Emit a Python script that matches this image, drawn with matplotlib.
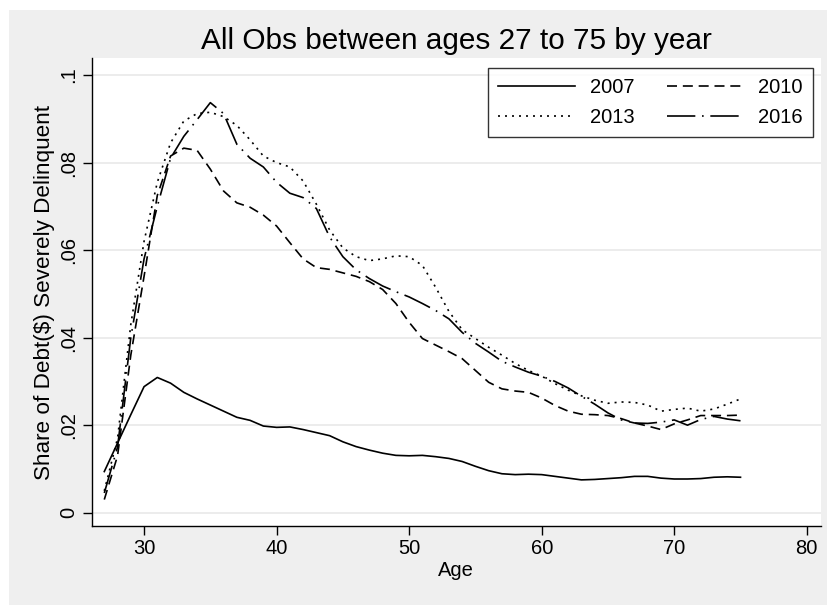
import matplotlib
matplotlib.use('Agg')
import matplotlib.pyplot as plt
from matplotlib.patches import Rectangle

plt.rcParams['font.family'] = ['Liberation Sans', 'DejaVu Sans']

ages = list(range(27, 76))

share_2007 = [
    .0094, .0159, .0224, .0288, .0309, .0296, .0275, .0260, .0246, .0232,
    .0218, .0211, .0198, .0195, .0196, .0190, .0183, .0176, .0162, .0151,
    .0143, .0136, .0131, .0130, .0131, .0128, .0124, .0117, .0106, .0096,
    .0089, .0087, .0088, .0087, .0083, .0079, .0075, .0076, .0078, .0080,
    .0083, .0083, .0079, .0077, .0077, .0078, .0081, .0082, .0081,
]
share_2010 = [
    .0030, .0130, .0360, .0540, .0725, .0815, .0833, .0828, .0785, .0735,
    .0708, .0698, .0680, .0655, .0617, .0580, .0560, .0556, .0548, .0540,
    .0528, .0510, .0478, .0435, .0398, .0383, .0368, .0352, .0325, .0298,
    .0283, .0278, .0275, .0262, .0245, .0232, .0225, .0224, .0222, .0215,
    .0205, .0198, .0190, .0203, .0212, .0222, .0222, .0222, .0223,
]
share_2013 = [
    .0050, .0170, .0430, .0620, .0755, .0845, .0895, .0912, .0915, .0905,
    .0885, .0852, .0815, .0800, .0790, .0758, .0705, .0646, .0605, .0585,
    .0576, .0580, .0587, .0585, .0565, .0515, .0460, .0418, .0398, .0378,
    .0360, .0341, .0325, .0312, .0295, .0280, .0267, .0257, .0250, .0253,
    .0252, .0246, .0232, .0236, .0239, .0232, .0237, .0248, .0260,
]
share_2016 = [
    .0045, .0150, .0400, .0580, .0700, .0810, .0860, .0898, .0937, .0912,
    .0842, .0810, .0790, .0755, .0730, .0720, .0695, .0630, .0585, .0555,
    .0535, .0518, .0505, .0493, .0478, .0462, .0443, .0412, .0387, .0367,
    .0346, .0333, .0321, .0312, .0300, .0285, .0266, .0248, .0228, .0212,
    .0205, .0204, .0207, .0212, .0200, .0213, .0220, .0214, .0210,
]

years = ['2007', '2010', '2013', '2016']
y_ticks = [0, .02, .04, .06, .08, .1]
y_labels = ['0', '.02', '.04', '.06', '.08', '.1']
x_ticks = [30, 40, 50, 60, 70, 80]

W, H = 827, 605
fig = plt.figure(figsize=(W / 100, H / 100), dpi=100, facecolor='white')
# grey graph region (white strip left and top)
fig.patches.append(Rectangle((9 / W, -0.01), 1.01, 1.01 - 10 / H,
                             transform=fig.transFigure, facecolor='#efefef',
                             edgecolor='none', zorder=-5))

ax = fig.add_axes([91.7 / W, 1 - 526 / H, (820.7 - 91.7) / W, (526 - 58) / H])
ax.set_facecolor('white')

styles = ['-', (0, (6, 3.5)), (0, (1.2, 3)), (0, (17, 4, 1, 4))]
lines = {}
for yr, vals, ls in zip(years, [share_2007, share_2010, share_2013, share_2016], styles):
    lines[yr], = ax.plot(ages, vals, color='black', lw=1.2, linestyle=ls, label=yr,
                         solid_joinstyle='round', dash_joinstyle='round')

ax.set_xlim(26.05, 81.05)
ax.set_ylim(-0.00304, 0.1039)
ax.set_xticks(x_ticks)
ax.set_yticks(y_ticks)
ax.set_yticklabels(y_labels, rotation=90, va='center')
ax.grid(axis='y', color='#eaeaea', lw=1.3)
ax.set_axisbelow(True)
for s in ['top', 'right']:
    ax.spines[s].set_visible(False)
for s in ['left', 'bottom']:
    ax.spines[s].set_linewidth(1.0)
ax.tick_params(length=6.5, width=1.0, labelsize=14.5, pad=3)

ax.set_xlabel('Age', fontsize=14.5, labelpad=2)
ax.set_ylabel('Share of Debt($) Severely Delinquent', fontsize=16.2, labelpad=3)

fig.text(456 / W, 1 - 41 / H, 'All Obs between ages 27 to 75 by year',
         fontsize=21.4, ha='center', va='center')

# stata fills legend rows first
order = ['2007', '2013', '2010', '2016']
leg = ax.legend([lines[k] for k in order], order, ncol=2, loc='upper right',
                bbox_to_anchor=(813 / W, 1 - 68 / H),
                bbox_transform=fig.transFigure, borderaxespad=0, fontsize=14.5,
                frameon=True, fancybox=False, edgecolor='black', handlelength=3.8,
                handletextpad=0.75, columnspacing=1.6, labelspacing=0.55,
                borderpad=0.5)
leg.get_frame().set_linewidth(1.0)

fig.savefig('out.png', dpi=100, facecolor=fig.get_facecolor())
